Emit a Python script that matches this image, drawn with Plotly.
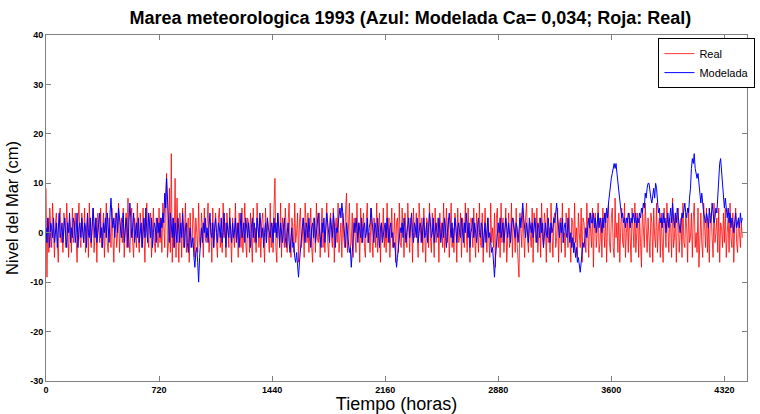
import numpy as np
import plotly.graph_objects as go

# Paso de muestreo de las series (horas)
PASO = 6

# Nivel del mar observado (cm), una fila = 120 horas
real = [
    9, -9, 3, -4, 5, 1, -3, 6, -2, -5, 2, 4, -1, -6, 3, 5, -2, 0, -4, 4,
    2, -3, 6, -1, -5, 3, 1, -4, 5, -2, 0, 4, -3, -6, 2, 6, -1, -3, 4, 0,
    -2, 5, -4, 1, 3, -5, 6, -1, -3, 2, 5, -4, 0, 3, -6, 4, 1, -2, 5, -3,
    0, 4, -5, 2, 6, -2, -4, 3, 1, -3, 5, -1, -6, 2, 4, -3, 0, 6, -4, 1,
    3, -2, 5, -5, 0, 4, -3, 7, -1, -4, 2, 5, -2, -5, 3, 1, -3, 6, -1, -4,
    4, 0, -3, 5, -2, -6, 3, 6, -1, -3, 2, 4, -5, 1, 5, -2, -4, 3, 0, -3,
    5, -2, 3, -4, 6, 1, -3, 8, 12, -5, -2, 9, -4, 16, -6, 3, -3, 11, -5, 7,
    -2, -6, 4, 2, -5, 5, -3, 0, 6, -4, 1, 3, -6, 4, -1, -3, 5, 2, -5, 3,
    0, -4, 6, -2, -3, 4, 1, -5, 5, -1, -2, 3, 6, -4, 0, 2, -6, 5, -3, 1,
    4, -2, -5, 3, 5, -3, 0, -4, 6, -1, 2, -5, 4, 1, -3, 5, -2, -6, 3, 0,
    -3, 6, -1, 2, -5, 4, 0, -3, 5, -4, 1, 6, -2, -5, 3, 2, -4, 4, -1, -6,
    5, -2, 1, -4, 6, 0, -3, 3, -5, 2, 4, -1, -6, 5, -2, 3, 0, -4, 6, -3,
    2, -4, 5, 11, -3, -6, 4, 1, -2, 6, -5, 3, 0, -3, 5, -1, -4, 2, 6, -2,
    -5, 3, 1, -4, 6, -2, 0, 4, -6, 2, 5, -3, -1, 3, -5, 6, 1, -2, 4, -4,
    0, 5, -3, -6, 3, 2, -4, 6, -1, -2, 4, -5, 1, 5, -3, 0, -4, 3, 6, -2,
    -5, 2, 4, -1, -3, 5, -6, 1, 3, -2, 6, -4, 0, 2, -5, 4, -1, -3, 5, 8,
    -4, 1, 6, -3, -2, 4, -5, 3, 0, -4, 6, -1, 2, -6, 5, -2, 1, 4, -3, -5,
    3, 6, -2, 0, -4, 5, -1, -5, 3, 2, -3, 6, -4, 1, 4, -6, 2, -1, 5, -3,
    1, -4, 6, -2, 3, -5, 0, 5, -3, -1, 4, -6, 2, 3, -4, 6, -2, -3, 5, 0,
    -5, 4, 1, -3, 6, -2, -4, 3, 2, -6, 5, -1, 0, 4, -3, -5, 6, 1, -2, 3,
    -4, 5, 0, -6, 3, 2, -3, 6, -1, -4, 4, 1, -5, 5, -2, 0, 3, -6, 4, -1,
    2, -3, 6, -4, -1, 5, -2, 3, -5, 0, 6, -3, 1, -4, 4, 2, -6, 5, -2, -1,
    4, -5, 3, 1, -3, 6, -2, -4, 5, 0, -6, 3, 2, -3, 5, -1, -5, 4, 1, -4,
    6, -2, -3, 4, -6, 2, 5, -1, -4, 3, 0, -5, 6, -2, 1, -3, 4, -7, 3, 5,
    -3, 1, -5, 6, -2, 3, -4, 0, 5, -6, 2, 4, -3, -1, 6, -5, 3, 1, -4, 5,
    -2, -6, -9, 4, 1, -3, 5, -2, -5, 3, 6, -1, -4, 2, 0, -3, 5, -6, 4, 1,
    -2, 5, -4, 0, 3, -5, 6, -1, -3, 4, 2, -6, 5, -2, 1, -4, 6, 0, -5, 3,
    4, -3, -1, 5, -6, 2, 3, -4, 6, -2, 0, -5, 4, 1, -3, 5, -1, -6, 3, 2,
    -4, 6, -2, 1, -5, 4, 0, -3, 5, -6, 3, 2, -1, -4, 6, -2, -5, 4, 1, -3,
    5, -7, 2, 4, -3, 0, 6, -4, -2, 3, -5, 5, 1, -3, 4, -6, 2, 6, -2, -4,
    3, 5, -3, -5, 7, -1, 2, -4, 4, -6, 1, 5, -2, -3, 6, -5, 0, 3, -4, 4,
    -1, -6, 5, 2, -3, 6, -4, 0, 4, -5, 3, -2, -7, 5, 1, -3, 6, -2, -4, 3,
    0, -5, 4, 2, -6, 5, -1, -3, 6, -4, 1, 3, -5, 4, -2, -6, 5, 0, -3, 6,
    -2, -4, 3, 1, -5, 7, -3, -1, 4, -6, 2, 5, -4, 0, 3, -5, 6, -2, -3, 4,
    1, -6, 5, -2, -1, 4, -5, 3, 6, -3, 0, -4, 5, -7, 2, 4, -2, -5, 6, 0,
    -3, 5, -4, 2, -6, 3, 4, -1, -5, 6, -2, 0, 3, -4, 5, -6, 2, 1, -3, 4,
    -2, 5, -5, 0, 3, -4, 6, -1, -3, 4, -6, 2, 5, -2, -4, 3, 0, -3, 2, -1,
]

# Nivel del mar modelado (cm), una fila = 120 horas
modelada = [
    1, -2, 3, 0, -3, 2, 1, -1, 3, -2, 0, 2, -3, 1, 4, -1, 0, 2, -2, 1,
    3, -1, -3, 2, 0, 4, -2, 1, -1, 3, 2, -2, 0, 4, -3, 1, 2, -1, 3, 0,
    -2, 2, 1, -3, 4, 0, -1, 3, -2, 1, 5, 2, -1, 3, -2, 0, 2, 4, -1, 1,
    -3, 2, 0, 3, -1, 4, 1, -2, 4, 7, 3, 1, 3, -1, 2, 4, 0, 5, 3, 1,
    -1, 2, 4, -2, 0, 3, 1, -3, 2, 6, 3, -1, 1, 4, -2, 0, 2, -1, 3, -2,
    0, 2, -3, 1, 3, -1, 5, 0, -2, 4, 1, -1, 3, -3, 0, 2, 1, -2, 3, 0,
    2, -1, 3, 1, 4, 2, 8, 5, 11, 6, 2, -2, 4, 1, -1, 3, -3, 2, 0, -2,
    3, 1, -2, 2, -1, 4, 0, -3, 1, 2, -2, -4, -1, 1, -3, -2, -1, -5, -7, -4,
    -3, -6, -10, -5, -1, 1, -2, 2, 0, 3, -1, 1, -2, 2, 4, 0, -1, 2, -3, 1,
    3, 0, -2, 2, 1, -1, 3, -2, 0, 4, 1, -3, 2, 0, -1, 3, 1, -2, 2, -1,
    0, 3, -2, 1, 2, -3, 1, 4, -1, 0, 2, -2, 3, 1, -1, 2, 0, -3, 1, 3,
    -1, 2, 0, -2, 3, 1, -1, 4, 2, -1, 1, -3, 0, 2, -2, 3, 1, 0, -1, 2,
    1, -2, 3, 0, 2, -1, 4, 1, -3, 2, 0, -2, 1, 3, -1, -3, 0, 2, -2, -4,
    -1, 1, -3, -2, -5, -6, -4, -7, -9, -6, -3, -1, 1, 3, 0, -2, 2, 1, -1, 3,
    0, -3, 1, 2, -1, 3, -2, 0, 2, 4, 1, -1, -3, 2, 0, 3, -2, 1, 4, 2,
    0, -2, 3, 1, -1, 4, 2, -3, 1, 0, 2, 3, 5, 3, 6, 4, 1, -1, -3, 2,
    0, -2, -4, -3, -7, -4, -1, 2, 0, 3, 1, -2, 2, 0, -1, 3, -2, 1, 2, -1,
    0, 3, -2, 1, 2, 5, 3, 0, -2, 2, 1, -1, 3, 0, -3, 1, 2, -2, 0, 1,
    2, -1, 3, 0, -2, 1, 2, -1, 0, -3, -2, -4, -7, -5, -3, -1, 1, 0, 2, -1,
    3, 1, -2, 0, 2, 3, -1, 1, 4, 0, -2, 2, 1, -1, 3, -2, 0, 2, 1, -2,
    1, 3, -1, 0, 2, -2, 1, 4, 2, -1, 0, 3, -2, 1, 2, 0, -1, 3, 1, -2,
    0, 2, -1, 3, 1, -3, 0, 2, 4, 1, -1, 2, -2, 0, 3, 1, -2, 1, 2, 0,
    -1, 3, 1, -2, 2, 0, 4, 1, -1, 2, -3, 0, 1, 3, -1, 2, 0, -2, 1, 3,
    0, -1, 2, 1, -3, 0, 2, -2, 1, 3, -1, 0, -2, -4, -3, -6, -9, -5, -2, 1,
    2, 0, 3, -1, 1, 2, -2, 0, 3, 1, -1, 2, 0, -2, 1, 3, 2, 0, -1, 2,
    1, -2, 0, 3, 1, 4, 6, 3, 1, -1, 2, 0, -2, 3, 1, 0, 2, -1, 1, 3,
    0, -2, 2, 1, -1, 3, 0, 2, -3, 1, 2, 0, -1, 3, 1, -2, 2, 0, 1, 3,
    2, 4, 6, 3, 1, -1, 2, 0, 3, -2, 1, 2, 0, -1, 3, 1, -2, 0, -3, -1,
    -4, -2, -5, -3, -6, -5, -7, -8, -6, -4, -2, -3, 0, 1, -1, 2, 3, 1, 4, 2,
    2, 4, 1, 3, 0, 2, 4, 1, 3, 2, 0, 3, 1, 4, 2, 5, 3, 6, 8, 10,
    11, 12, 13, 14, 13, 14, 12, 10, 8, 6, 5, 3, 4, 2, 3, 1, 3, 2, 4, 3,
    1, 3, 2, 4, 3, 2, 4, 1, 3, 2, 4, 3, 5, 4, 6, 5, 8, 7, 9, 10,
    10, 8, 7, 6, 8, 9, 7, 10, 9, 6, 4, 5, 2, 3, 1, 4, 2, 3, 0, 2,
    4, 1, 3, 5, 2, 6, 3, 1, 4, 2, 5, 3, 1, 0, 2, 4, 3, 5, 6, 4,
    3, 5, 4, 7, 9, 13, 15, 14, 16, 13, 12, 11, 12, 10, 9, 6, 8, 5, 4, 3,
    2, 4, 3, 1, 5, 2, 3, 6, 4, 2, 3, 5, 4, 8, 11, 14, 15, 12, 9, 6,
    5, 7, 4, 3, 5, 2, 4, 1, 3, 2, 0, 3, 4, 1, 2, 3, 1, 4, 2, 3,
]

x_ticks = [0, 720, 1440, 2160, 2880, 3600, 4320]
y_ticks = [-30, -20, -10, 0, 10, 20, 30, 40]

horas_real = np.arange(len(real)) * PASO
horas_mod = np.arange(len(modelada)) * PASO

fig = go.Figure()
fig.add_trace(go.Scatter(
    x=horas_real, y=real, mode="lines", name="Real",
    line=dict(color="#ff0000", width=0.8),
))
fig.add_trace(go.Scatter(
    x=horas_mod, y=modelada, mode="lines", name="Modelada",
    line=dict(color="#0000ff", width=1.0),
))

tick_font = dict(family="Liberation Sans Narrow, Arial Narrow, Liberation Sans",
                 size=9, color="#000000", weight="bold")
axis_common = dict(
    showgrid=False, zeroline=False, showline=True, linecolor="#808080",
    linewidth=1, mirror="ticks", ticks="inside", ticklen=5,
    tickcolor="#808080", tickfont=tick_font,
)

fig.update_layout(
    width=760, height=414,
    margin=dict(l=46, r=5, t=35, b=33),
    paper_bgcolor="white", plot_bgcolor="white",
    title=dict(
        text="<b>Marea meteorologica 1993 (Azul: Modelada Ca= 0,034; Roja: Real)</b>",
        x=0.54, xanchor="center", y=0.957, yanchor="middle",
        font=dict(family="Liberation Sans, Arial", size=18, color="#000000"),
    ),
    xaxis=dict(
        range=[0, 4464], tickvals=x_ticks, ticktext=[str(v) for v in x_ticks],
        title=dict(text="Tiempo (horas)", standoff=2,
                   font=dict(family="Liberation Sans, Arial", size=18, color="#000000")),
        **axis_common,
    ),
    yaxis=dict(
        range=[-30, 40], tickvals=y_ticks, ticktext=[str(v) for v in y_ticks],
        title=dict(text="Nivel del Mar (cm)", standoff=7,
                   font=dict(family="Liberation Sans, Arial", size=16.5, color="#000000")),
        **axis_common,
    ),
    legend=dict(
        x=1.012, xanchor="right", y=0.991, yanchor="top",
        bgcolor="white", bordercolor="#000000", borderwidth=1,
        font=dict(family="Liberation Sans, Arial", size=11, color="#000000"),
        tracegroupgap=0, itemwidth=30,
    ),
    showlegend=True,
)

fig.write_html("out.html")
